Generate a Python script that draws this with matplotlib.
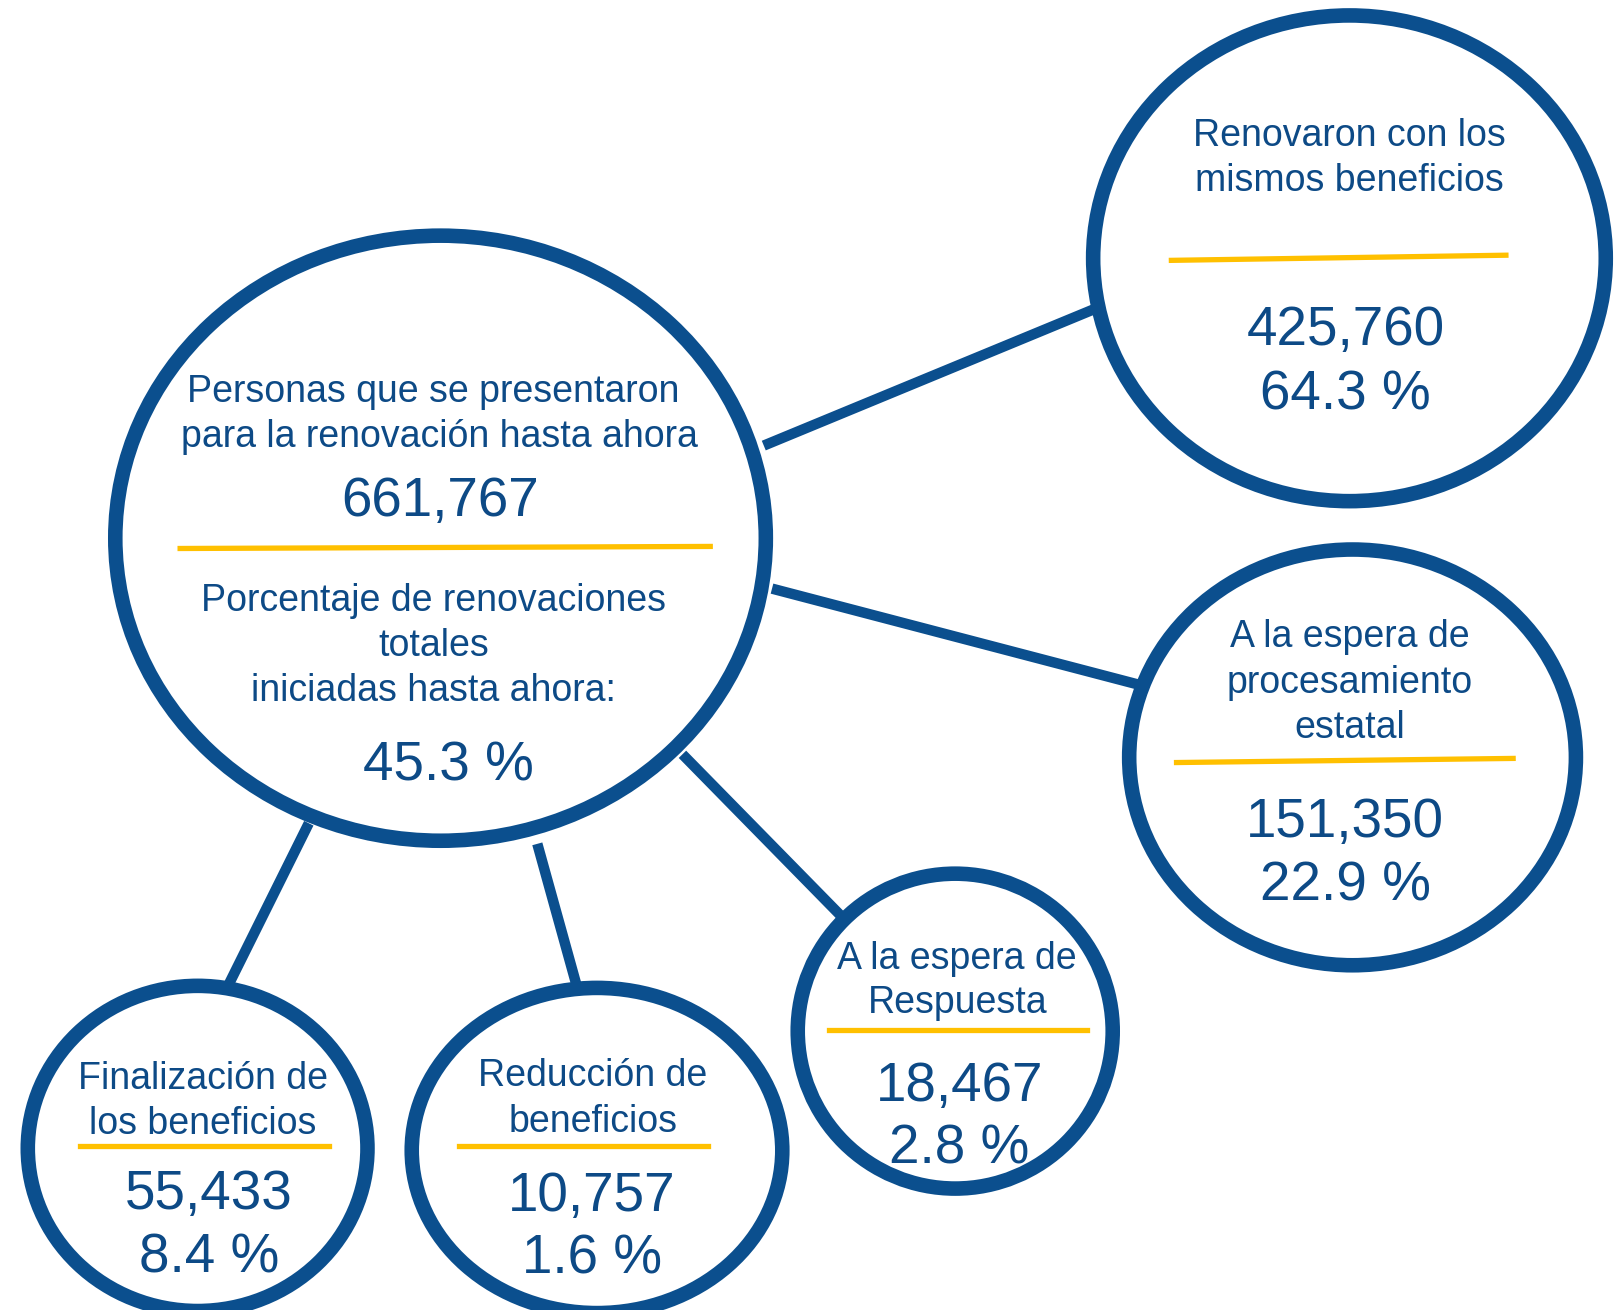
import matplotlib.pyplot as plt
from matplotlib.patches import Ellipse

plt.rcParams["font.family"] = ["Liberation Sans", "DejaVu Sans"]

BLUE = "#0b4f8e"
TEXT = "#0d4a86"
GOLD = "#ffc000"

# data
total_label = ["Personas que se presentaron", "para la renovación hasta ahora"]
total_count = 661767
share_label = ["Porcentaje de renovaciones", "totales", "iniciadas hasta ahora:"]
share_pct = 45.3

categories = [
    ["Renovaron con los", "mismos beneficios"],
    ["A la espera de", "procesamiento", "estatal"],
    ["A la espera de", "Respuesta"],
    ["Finalización de", "los beneficios"],
    ["Reducción de", "beneficios"],
]
counts = [425760, 151350, 18467, 55433, 10757]
percents = [64.3, 22.9, 2.8, 8.4, 1.6]

# layout (pixel space of a 1568 x 1273 canvas)
main_circle = (428, 523, 316, 294)
circles = [
    (1311, 251, 249, 236),
    (1314, 736, 217, 202),
    (928, 1002, 153, 153),
    (192, 1116, 165, 158),
    (580, 1118, 180, 158),
]
connectors = [
    ((742, 433), (1064, 300)),
    ((750, 572), (1105, 665)),
    ((663, 733), (817, 890)),
    ((300, 800), (222, 957)),
    ((522, 820), (560, 957)),
]
label_x = [1311, 1311, 930, 197, 576]
num_x = [1307, 1307, 932, 203, 575]
label_y = [[128, 172], [615, 660, 703], [928, 971], [1045, 1088], [1042, 1086]]
rules = [
    ((1138, 253), (1463, 248)),
    ((1143, 741), (1470, 737)),
    ((805, 1001), (1056, 1001)),
    ((78, 1114), (320, 1114)),
    ((446, 1114), (688, 1114)),
]
num_y = [318, 796, 1052, 1157, 1159]
pct_y = [380, 857, 1113, 1219, 1220]

fig = plt.figure(figsize=(16.14, 13.10), dpi=100)
ax = fig.add_axes([0, 0, 1, 1])
ax.set_xlim(0, 1568)
ax.set_ylim(1273, 0)
ax.axis("off")

LABEL_FS = 27
NUM_FS = 39.5
DY = 4  # va="center" puts the ink a bit high

for (x0, y0), (x1, y1) in connectors:
    ax.plot([x0, x1], [y0, y1], color=BLUE, lw=7.5, solid_capstyle="butt", zorder=1)

for cx, cy, rx, ry in [main_circle] + circles:
    ax.add_patch(Ellipse((cx, cy), 2 * rx, 2 * ry, facecolor="white",
                         edgecolor=BLUE, lw=10.5, zorder=2))


def txt(x, y, s, fs):
    ax.text(x, y + DY, s, fontsize=fs, color=TEXT, ha="center", va="center", zorder=4)


# central circle
txt(421, 377, total_label[0], LABEL_FS)
txt(427, 421, total_label[1], LABEL_FS)
txt(428, 484, f"{total_count:,}", NUM_FS)
ax.plot([175, 690], [533, 531], color=GOLD, lw=3.8, zorder=3)
for s, y in zip(share_label, [580, 624, 667]):
    txt(421, y, s, LABEL_FS)
txt(436, 741, f"{share_pct} %", NUM_FS)

for i in range(len(categories)):
    for s, y in zip(categories[i], label_y[i]):
        txt(label_x[i], y, s, LABEL_FS)
    (x0, y0), (x1, y1) = rules[i]
    ax.plot([x0, x1], [y0, y1], color=GOLD, lw=3.8, zorder=3)
    txt(num_x[i], num_y[i], f"{counts[i]:,}", NUM_FS)
    txt(num_x[i], pct_y[i], f"{percents[i]} %", NUM_FS)

fig.savefig("out.png", dpi=100, facecolor="white")
